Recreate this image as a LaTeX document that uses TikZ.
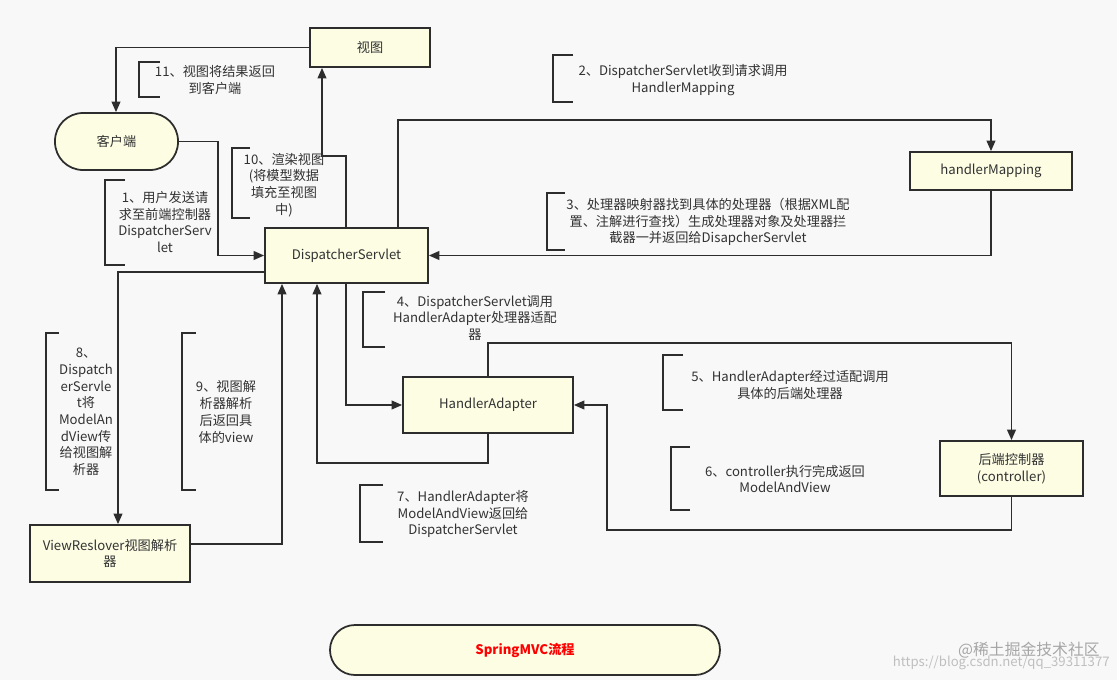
\documentclass[tikz,border=0pt]{standalone}
\usepackage{fontspec}
\setmainfont{Noto Sans CJK SC}
\usetikzlibrary{arrows.meta}
\definecolor{bg}{RGB}{248,248,248}
\definecolor{boxfill}{RGB}{253,253,228}
\definecolor{ln}{RGB}{45,45,45}
\definecolor{txt}{RGB}{50,50,50}
\begin{document}
\begin{tikzpicture}[x=0.02cm,y=-0.02cm,
  box/.style={draw=ln,line width=1pt,fill=boxfill,text=txt,font=\fontsize{7.5}{9.5}\selectfont,align=center,inner sep=0pt},
  lbl/.style={text=txt,font=\fontsize{7.5}{9.5}\selectfont,align=center,inner sep=0pt},
  conn/.style={draw=ln,line width=1pt,-{Triangle[length=6pt,width=5pt]}},
  brk/.style={draw=ln,line width=1pt}]
\fill[bg] (0,0) rectangle (1117,680);
\useasboundingbox (0,0) rectangle (1117,680);
% nodes
\node[box,minimum width=120*0.02cm,minimum height=39*0.02cm] (view) at (370,47.5) {视图};
\node[box,rounded corners=28*0.02cm,minimum width=123*0.02cm,minimum height=57*0.02cm] (client) at (116.5,141.5) {客户端};
\node[box,minimum width=162*0.02cm,minimum height=38*0.02cm] (hm) at (991,171) {handlerMapping};
\node[box,minimum width=163*0.02cm,minimum height=55*0.02cm] (ds) at (346.5,255.5) {DispatcherServlet};
\node[box,minimum width=170*0.02cm,minimum height=56*0.02cm] (ha) at (488,405) {HandlerAdapter};
\node[box,minimum width=143*0.02cm,minimum height=55*0.02cm] (ctl) at (1011.5,468.5) {后端控制器\\(controller)};
\node[box,minimum width=160*0.02cm,minimum height=57*0.02cm] (vr) at (110,553.5) {ViewReslover视图解析\\器};
\node[box,rounded corners=25*0.02cm,minimum width=390*0.02cm,minimum height=50*0.02cm,text=red,font=\fontsize{7.5}{9.5}\selectfont\bfseries] (title) at (525,650) {SpringMVC流程};
% connectors
\draw[conn] (view.west) -- (116,47.5) -- (client.north -| 116,0);
\draw[conn] (client.east) -- (218,141.5) |- (ds.west);
\draw[conn] (ds.north -| 346,0) -- (346,156) -- (322,156) -- (view.south -| 322,0);
\draw[conn] (ds.north -| 398,0) -- (398,120) -| (hm.north);
\draw[conn] (hm.south) |- (ds.east);
\draw[conn] (ds.west |- 0,272) -- (118,272) -- (vr.north -| 118,0);
\draw[conn] (vr.east |- 0,544) -- (282,544) -- (ds.south -| 282,0);
\draw[conn] (ha.south) -- (488,463) -- (317,463) -- (ds.south -| 317,0);
\draw[conn] (ds.south -| 346,0) |- (ha.west);
\draw[conn] (ha.north) -- (488,343) -| (ctl.north);
\draw[conn] (ctl.south) -- (1011.5,530) -- (607,530) |- (ha.east);
% brackets
\draw[brk] (160,62) -- (139,62) -- (139,97) -- (160,97);
\draw[brk] (573,55) -- (553,55) -- (553,102) -- (573,102);
\draw[brk] (250,148) -- (232,148) -- (232,218) -- (250,218);
\draw[brk] (125,180) -- (105,180) -- (105,265) -- (125,265);
\draw[brk] (565,193) -- (547,193) -- (547,250) -- (565,250);
\draw[brk] (385,292) -- (363,292) -- (363,347) -- (385,347);
\draw[brk] (59,333) -- (46,333) -- (46,490) -- (59,490);
\draw[brk] (196,333) -- (182,333) -- (182,490) -- (196,490);
\draw[brk] (683,355) -- (663,355) -- (663,410) -- (683,410);
\draw[brk] (690,447) -- (671,447) -- (671,510) -- (690,510);
\draw[brk] (383,485) -- (360,485) -- (360,542) -- (383,542);
% labels
\node[lbl] (l11) at (215,80) {11、视图将结果返回\\到客户端};
\node[lbl] (l2) at (683,80) {2、DispatcherServlet收到请求调用\\HandlerMapping};
\node[lbl] (l10) at (284,185) {10、渲染视图\\(将模型数据\\填充至视图\\中)};
\node[lbl] (l1) at (165,222) {1、用户发送请\\求至前端控制器\\DispatcherServ\\let};
\node[lbl] (l3) at (708,222) {3、处理器映射器找到具体的处理器（根据XML配\\置、注解进行查找）生成处理器对象及处理器拦\\截器一并返回给DisapcherServlet};
\node[lbl] (l4) at (475,318) {4、DispatcherServlet调用\\HandlerAdapter处理器适配\\器};
\node[lbl] (l8) at (86,412) {8、\\Dispatch\\erServle\\t将\\ModelAn\\dView传\\给视图解\\析器};
\node[lbl] (l9) at (226,412) {9、视图解\\析器解析\\后返回具\\体的view};
\node[lbl] (l5) at (790,385) {5、HandlerAdapter经过适配调用\\具体的后端处理器};
\node[lbl] (l6) at (785,479) {6、controller执行完成返回\\ModelAndView};
\node[lbl] (l7) at (463,514) {7、HandlerAdapter将\\ModelAndView返回给\\DispatcherServlet};
\node[lbl,text=gray!70,anchor=east] (wm1) at (1100,650) {\fontsize{9}{11}\selectfont @稀土掘金技术社区};
\node[lbl,text=gray!50,anchor=east] (wm2) at (1110,663) {https://blog.csdn.net/qq\_39311377};
\end{tikzpicture}
\end{document}
